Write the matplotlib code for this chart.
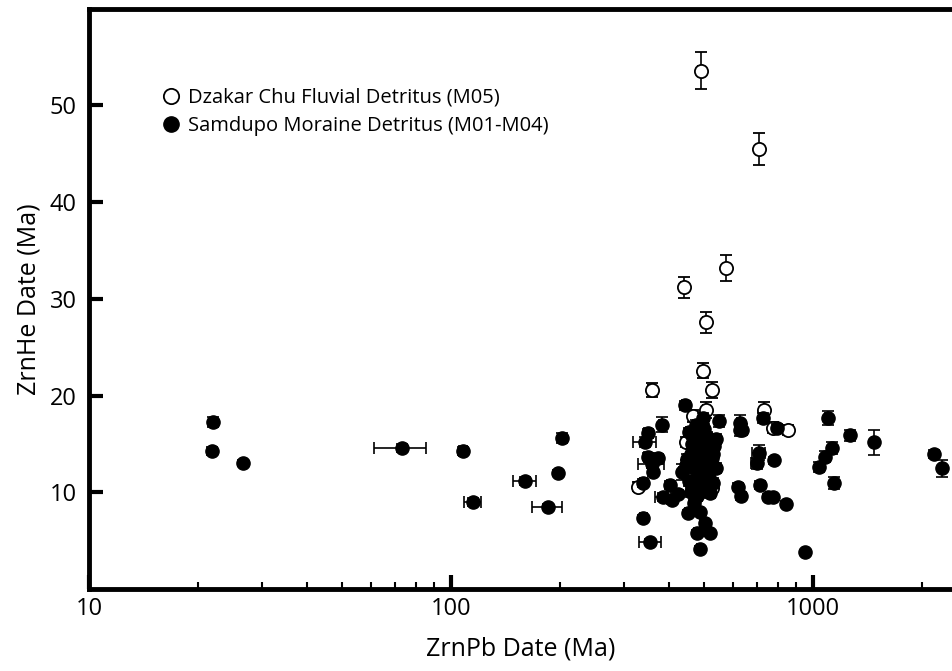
import matplotlib
matplotlib.use("Agg")
import matplotlib.pyplot as plt
from matplotlib.lines import Line2D
from matplotlib.ticker import FixedLocator, FixedFormatter, NullFormatter

plt.rcParams['font.family'] = ['Open Sans', 'DejaVu Sans']

# Dzakar Chu fluvial detritus (M05), open symbols
m05_pb = [491, 710, 575, 441, 506, 497, 359, 526, 506, 467, 329, 526, 446, 732, 774, 853]
m05_he = [53.6, 45.5, 33.2, 31.2, 27.6, 22.6, 20.6, 20.6, 18.5, 17.9, 10.6, 10.5, 15.2, 18.5, 16.7, 16.5]
m05_he_err = [1.9, 1.7, 1.3, 1.1, 1.1, 0.8, 0.7, 0.8, 0.8, 0.6, 0.5, 0.5, 0.5, 0.8, 0.6, 0.5]
m05_pb_err = [8, 8, 8, 8, 8, 8, 8, 8, 8, 8, 8, 8, 8, 10, 10, 25]

# Samdupo moraine detritus (M01-M04), filled symbols
m01_pb = [22.0, 21.9, 26.6, 73.3, 108, 115, 160, 185, 198, 203,
          443, 497, 550, 383, 350, 343, 350, 373, 359, 362, 435, 340, 403, 424, 386, 408, 340, 355,
          452, 488, 503, 478, 519, 488, 470,
          455, 470, 480, 495, 510, 520, 465, 485, 500, 515, 530, 460, 475, 490, 505, 520, 540,
          470, 485, 500, 515, 530, 455, 470, 490, 505, 520, 460, 480, 495, 510, 525, 445, 500,
          475, 540, 535, 450, 488, 510,
          628, 630, 727, 795, 636, 710, 700, 780, 623, 635, 714, 751, 774, 842, 951,
          1099, 1265, 1473, 1128, 1079, 1040, 1143, 2158, 2270]
m01_he = [17.3, 14.3, 13.0, 14.6, 14.3, 9.0, 11.2, 8.5, 12.0, 15.6,
          19.0, 17.7, 17.4, 17.0, 16.1, 15.2, 13.7, 13.6, 12.9, 12.1, 12.1, 11.0, 10.8, 9.8, 9.5, 9.2, 7.4, 4.9,
          7.9, 8.0, 6.8, 5.8, 5.8, 4.2, 8.9,
          16.2, 16.0, 15.8, 16.1, 15.7, 15.2, 15.0, 14.8, 14.5, 14.2, 14.0, 14.0, 13.5, 13.2, 13.0, 12.8, 12.5,
          12.5, 12.0, 11.8, 11.5, 11.0, 11.2, 10.8, 10.5, 10.2, 9.9, 10.0, 9.6, 13.8, 12.2, 13.6, 12.8, 16.6,
          17.0, 15.5, 14.8, 13.5, 11.3, 10.8,
          17.2, 16.4, 17.7, 16.7, 16.5, 14.1, 13.0, 13.3, 10.6, 9.6, 10.8, 9.5, 9.5, 8.8, 3.8,
          17.7, 15.9, 15.2, 14.6, 13.7, 12.6, 11.0, 14.0, 12.5]
m01_he_err = [0.5, 0.4, 0.3, 0.4, 0.4, 0.4, 0.4, 0.3, 0.3, 0.5,
              0.5, 0.5, 0.6, 0.8, 0.5, 0.5, 0.4, 0.4, 0.4, 0.4, 0.8, 0.4, 0.4, 0.4, 0.4, 0.4, 0.3, 0.3,
              0.3, 0.3, 0.3, 0.3, 0.3, 0.3, 0.3,
              0.5, 0.5, 0.5, 0.5, 0.5, 0.5, 0.5, 0.5, 0.5, 0.5, 0.5, 0.5, 0.5, 0.5, 0.5, 0.5, 0.5,
              0.5, 0.5, 0.5, 0.5, 0.5, 0.5, 0.5, 0.5, 0.5, 0.5, 0.5, 0.5, 0.5, 0.5, 0.5, 0.5, 0.5,
              0.5, 0.5, 0.5, 0.5, 0.5, 0.5,
              0.8, 0.6, 0.5, 0.4, 0.6, 0.8, 0.6, 0.4, 0.4, 0.4, 0.4, 0.3, 0.3, 0.3, 0.2,
              0.7, 0.6, 1.3, 0.6, 0.6, 0.5, 0.6, 0.4, 0.9]
m01_pb_err = [0.3, 0.3, 0.3, 12, 3, 6, 12, 18, 3, 3,
              8, 8, 8, 8, 8, 25, 8, 8, 30, 8, 8, 8, 8, 8, 20, 8, 8, 25,
              8, 8, 8, 8, 8, 8, 8,
              8, 8, 8, 8, 8, 8, 8, 8, 8, 8, 8, 8, 8, 8, 8, 8, 8,
              8, 8, 8, 8, 8, 8, 8, 8, 8, 8, 8, 8, 8, 8, 8, 8, 8,
              8, 8, 8, 8, 8, 8,
              10, 10, 10, 10, 10, 30, 25, 10, 10, 10, 10, 10, 10, 10, 10,
              15, 15, 15, 15, 15, 15, 15, 20, 20]

fig = plt.figure(figsize=(9.53, 6.71), dpi=100)
ax = fig.add_axes([0.0934, 0.122, 0.9066, 0.865])

ax.errorbar(m05_pb, m05_he, yerr=m05_he_err, xerr=m05_pb_err, fmt='o', mfc='white', mec='black',
            mew=1.3, ms=9.5, ecolor='black', elinewidth=1.2, capsize=4, capthick=1.2, zorder=3)
ax.errorbar(m01_pb, m01_he, yerr=m01_he_err, xerr=m01_pb_err, fmt='o', mfc='black', mec='black',
            ms=9.5, ecolor='black', elinewidth=1.2, capsize=4, capthick=1.2, zorder=4)

ax.set_xscale('log')
ax.set_xlim(10, 2440)
ax.set_ylim(0, 60)

ax.xaxis.set_major_locator(FixedLocator([10, 100, 1000]))
ax.xaxis.set_major_formatter(FixedFormatter(['10', '100', '1000']))
minors = [v * d for d in (10, 100, 1000) for v in range(2, 10)]
ax.xaxis.set_minor_locator(FixedLocator(minors))
ax.xaxis.set_minor_formatter(NullFormatter())
ax.set_yticks([10, 20, 30, 40, 50])

ax.tick_params(axis='both', which='major', direction='in', length=10, width=3, labelsize=17)
ax.tick_params(axis='x', which='minor', direction='in', length=5, width=1.5)
ax.tick_params(axis='x', which='major', pad=6)
ax.tick_params(axis='y', which='major', pad=9)

for side in ('left', 'bottom', 'top'):
    ax.spines[side].set_linewidth(3.5)
ax.spines['right'].set_visible(False)

ax.set_xlabel('ZrnPb Date (Ma)', fontsize=18, labelpad=11)
ax.set_ylabel('ZrnHe Date (Ma)', fontsize=18, labelpad=6)

handles = [Line2D([], [], ls='none', marker='o', ms=11, mfc='white', mec='black', mew=1.3),
           Line2D([], [], ls='none', marker='o', ms=11, mfc='black', mec='black')]
ax.legend(handles, ['Dzakar Chu Fluvial Detritus (M05)', 'Samdupo Moraine Detritus (M01-M04)'],
          loc='upper left', bbox_to_anchor=(0.06, 0.895), frameon=False, fontsize=14.5,
          handletextpad=0.25, labelspacing=0.4, handlelength=1.2)

fig.savefig('out.png', dpi=100)
